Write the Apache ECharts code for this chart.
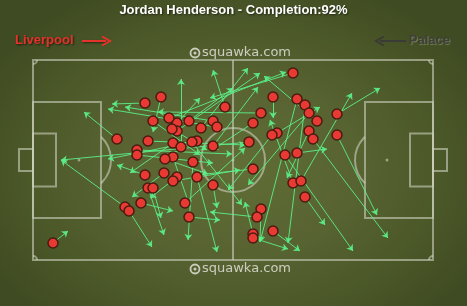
<!DOCTYPE html>
<html>
<head>
<meta charset="utf-8">
<script src="https://cdn.jsdelivr.net/npm/echarts@6/dist/echarts.min.js"></script>
<style>
html,body{margin:0;padding:0;}
body{width:467px;height:306px;overflow:hidden;
background-color:#5c6a31;
background-image:radial-gradient(rgba(0,0,0,0.16) 0.7px, transparent 0.9px),
radial-gradient(ellipse 60% 65% at 50% 55%, #738240 0%, #67753a 45%, #56652e 80%, #4b5928 100%);
background-size:2px 2px, 100% 100%;}
#chart{width:467px;height:306px;}
</style>
</head>
<body>
<div id="chart"></div>
<script>
// Pitch coordinates: x 0..100 (left to right), y 0..100 (bottom to top)
const titleText = 'Jordan Henderson - Completion:92%';
const homeTeam = 'Liverpool';
const awayTeam = 'Palace';
const watermark = 'squawka.com';

const startX = [65,60,66,68,57,69,71,76,55,61,59.75,69,70,76,54,63,66,48,45,46,42,39,36,36,34,34.75,32,28,30,21,28.75,35,41,39.75,37,26,26,45,35,33,40,28,32.75,36,35,41,45,28.75,30,27,23,24,38,39,55,65,67,68,57,56,60,55,55,5];
const startY = [93.5,81.5,80.5,77.5,73.5,73.5,69.5,73,68.5,63.5,62.5,64.5,60.5,62.5,59,52.5,53.5,76.5,69.5,66.5,66,69.5,68.5,64.5,71,65.5,81.5,78.5,69.5,60.5,59.5,58.5,59.5,59,56.5,55,52.5,57,51.5,50.5,49,42.5,43.5,41.5,39.5,41.5,37.5,36,36,28.5,26.5,24.5,28.5,21.5,45.5,38.5,39.5,31.5,25.5,21.5,14.5,13,11,8.5];
const endX = [44.25,60,56.75,63.75,31.25,53.75,57.75,86.75,44.75,71.75,48.75,63.5,88.75,86,7,80,73.5,45,23,18.75,53.75,50,41.75,56.75,63.25,43.5,30,19.75,41.75,12.75,53,24.25,18.75,52.25,37,49.75,45,56.25,39.25,43.75,38.75,21,24.75,29.25,51.75,46,46,32.75,32,35,7,29.75,53,46.75,40.75,59.25,79.75,73,56.75,44.25,66.75,53,63.75,8.75];
const endY = [81,71,9,8.5,74,37.5,92,86,55,76.5,35,41,11,22.5,50,4.5,55.5,95,76.5,75.5,96,86,81,93.5,94,55,64,78,52.5,74,57.5,43.5,50.5,27.5,90.5,53,48.5,86.5,26.5,43,10,47.5,31.5,31,45,4,26,12.5,21,24.5,50,6.5,56,20,42.5,70,83.5,17.5,9,24,4.5,29,5.5,14.5];

const passLines = startX.map((x, i) => ({coords: [[x, startY[i]], [endX[i], endY[i]]]}));
const passStarts = startX.map((x, i) => [x, startY[i]]);

const chart = echarts.init(document.getElementById('chart'), null, {renderer: 'canvas'});

const markColor = 'rgba(205,208,190,0.6)';
function pitchRender(params, api) {
  const c = p => api.coord(p);
  const unit = c([1, 0])[0] - c([0, 0])[0];
  const ls = {stroke: markColor, lineWidth: 2, fill: null};
  const rect = (x0, y0, x1, y1) => {
    const a = c([x0, y1]), b = c([x1, y0]);
    return {type: 'rect', shape: {x: a[0], y: a[1], width: b[0] - a[0], height: b[1] - a[1]}, style: ls};
  };
  const arc = (cx, cy, r, s, e) => {
    const p = c([cx, cy]);
    return {type: 'arc', shape: {cx: p[0], cy: p[1], r: r * unit, startAngle: s, endAngle: e, clockwise: true}, style: ls};
  };
  const spot = (cx, cy) => {
    const p = c([cx, cy]);
    return {type: 'circle', shape: {cx: p[0], cy: p[1], r: 1.5}, style: {fill: markColor}};
  };
  const mid1 = c([50, 0]), mid2 = c([50, 100]);
  const dA = Math.acos(5.5 / 8);
  const children = [
    rect(0, 0, 100, 100),
    {type: 'line', shape: {x1: mid1[0], y1: mid1[1], x2: mid2[0], y2: mid2[1]}, style: ls},
    rect(0, 21, 17, 79), rect(83, 21, 100, 79),
    rect(0, 36.75, 5.75, 63.25), rect(94.25, 36.75, 100, 63.25),
    rect(-3.5, 44.5, 0, 55.5), rect(100, 44.5, 103.5, 55.5),
    arc(50, 50, 8, 0, Math.PI * 2),
    arc(11.5, 50, 8, -dA, dA),
    arc(88.5, 50, 8, Math.PI - dA, Math.PI + dA),
    arc(0, 100, 1, 0, Math.PI / 2),
    arc(100, 100, 1, Math.PI / 2, Math.PI),
    arc(100, 0, 1, Math.PI, Math.PI * 1.5),
    arc(0, 0, 1, Math.PI * 1.5, Math.PI * 2),
    spot(50, 50), spot(11.5, 50), spot(88.5, 50)
  ];
  return {type: 'group', children: children};
}

const shadowW = {textShadowColor: 'rgba(0,0,0,0.55)', textShadowBlur: 2, textShadowOffsetX: 1, textShadowOffsetY: 1};

const option = {
  backgroundColor: 'transparent',
  animation: false,
  grid: {left: 33, right: 34, top: 60, bottom: 46, containLabel: false},
  xAxis: {type: 'value', min: 0, max: 100, show: false},
  yAxis: {type: 'value', min: 0, max: 100, show: false},
  graphic: [
    {type: 'text', left: 'center', top: 4, style: Object.assign({text: titleText, fill: '#ffffff', font: 'bold 13px "Liberation Sans", Arial, sans-serif'}, shadowW)},
    {type: 'text', left: 15, top: 34, style: Object.assign({text: homeTeam, fill: '#e5322a', font: 'bold 13px "Liberation Sans", Arial, sans-serif'}, {textShadowColor: 'rgba(0,0,0,0.6)', textShadowBlur: 2, textShadowOffsetX: 1, textShadowOffsetY: 1})},
    {type: 'line', shape: {x1: 82, y1: 41, x2: 106, y2: 41}, style: {stroke: '#e5322a', lineWidth: 2, shadowColor: 'rgba(0,0,0,0.5)', shadowBlur: 2, shadowOffsetX: 1, shadowOffsetY: 1}},
    {type: 'polyline', shape: {points: [[102, 36.5], [110, 41], [102, 45.5]]}, style: {stroke: '#e5322a', lineWidth: 2, fill: null}},
    {type: 'text', right: 17, top: 34, style: {text: awayTeam, fill: '#3e3e3a', font: 'bold 13px "Liberation Sans", Arial, sans-serif', textShadowColor: 'rgba(140,150,110,0.7)', textShadowBlur: 1, textShadowOffsetX: 1, textShadowOffsetY: 1}},
    {type: 'line', shape: {x1: 380, y1: 41, x2: 406, y2: 41}, style: {stroke: '#3a3a36', lineWidth: 2}},
    {type: 'polyline', shape: {points: [[384, 36.5], [376, 41], [384, 45.5]]}, style: {stroke: '#3a3a36', lineWidth: 2, fill: null}},
    {type: 'circle', shape: {cx: 195, cy: 53, r: 4.5}, style: {stroke: 'rgba(225,225,215,0.85)', lineWidth: 1.8, fill: null}},
    {type: 'circle', shape: {cx: 195, cy: 53, r: 1.5}, style: {fill: 'rgba(225,225,215,0.85)'}},
    {type: 'text', left: 202, top: 46, style: {text: watermark, fill: 'rgba(225,225,215,0.85)', font: '13px "DejaVu Sans", sans-serif'}},
    {type: 'circle', shape: {cx: 195, cy: 269, r: 4.5}, style: {stroke: 'rgba(225,225,215,0.85)', lineWidth: 1.8, fill: null}},
    {type: 'circle', shape: {cx: 195, cy: 269, r: 1.5}, style: {fill: 'rgba(225,225,215,0.85)'}},
    {type: 'text', left: 202, top: 262, style: {text: watermark, fill: 'rgba(225,225,215,0.85)', font: '13px "DejaVu Sans", sans-serif'}}
  ],
  series: [
    {type: 'custom', coordinateSystem: 'cartesian2d', renderItem: pitchRender, data: [[0, 0]], silent: true, z: 1, clip: false},
    {type: 'lines', coordinateSystem: 'cartesian2d', data: passLines, z: 3,
     symbol: ['none', 'arrow'], symbolSize: 6,
     lineStyle: {color: '#5cf08a', width: 1, opacity: 0.9, curveness: 0}},
    {type: 'scatter', data: passStarts, symbol: 'circle', symbolSize: 10, z: 4,
     itemStyle: {color: '#e83a32', borderColor: '#4a1c12', borderWidth: 1.5, opacity: 1}}
  ]
};
chart.setOption(option);
</script>
</body>
</html>
